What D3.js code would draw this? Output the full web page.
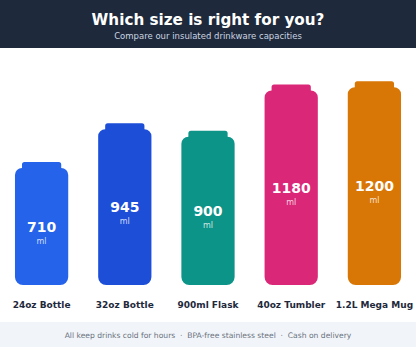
<!DOCTYPE html>
<html>
<head>
<meta charset="utf-8">
<script src="https://cdn.jsdelivr.net/npm/d3@7"></script>
<style>
  html, body { margin: 0; padding: 0; background: #ffffff; }
  svg { display: block; font-family: "DejaVu Sans", sans-serif; }
</style>
</head>
<body>
<div id="chart"></div>
<script>
// data
const categories = ["24oz Bottle", "32oz Bottle", "900ml Flask", "40oz Tumbler", "1.2L Mega Mug"];
const capacities = [710, 945, 900, 1180, 1200];
const colors = ["#2563eb", "#1d4ed8", "#0d9488", "#db2777", "#d97706"];
const footerNotes = ["All keep drinks cold for hours", "BPA-free stainless steel", "Cash on delivery"];

const width = 416, height = 347;
const headerH = 48, footerTop = 322;
const baseY = 285;

const svg = d3.select("#chart").append("svg")
  .attr("width", width)
  .attr("height", height);

// header
svg.append("rect").attr("width", width).attr("height", headerH).attr("fill", "#1e293b");
svg.append("text")
  .attr("x", width / 2).attr("y", 24.5)
  .attr("text-anchor", "middle")
  .attr("fill", "#ffffff")
  .attr("font-size", 15.2).attr("font-weight", "bold")
  .text("Which size is right for you?");
svg.append("text")
  .attr("x", width / 2).attr("y", 38.5)
  .attr("text-anchor", "middle")
  .attr("fill", "#cbd5e1")
  .attr("font-size", 8.5)
  .text("Compare our insulated drinkware capacities");

// scales
const x = d3.scaleBand().domain(categories).range([0, width]).paddingInner(0.36).paddingOuter(0.18);
const y = d3.scaleLinear().domain([0, 1320]).range([baseY, 67.5]);

const data = categories.map((c, i) => ({ name: c, value: capacities[i], color: colors[i] }));

// bottle outline: body with shoulders, small cap on top
function bottle(d) {
  const x0 = x(d.name), x1 = x0 + x.bandwidth();
  const top = y(d.value), bot = y(0);
  const r = 7, capH = 6, cr = 2.5, rb = 8;
  return `M${x0},${top + r}` +
    `A${r},${r} 0 0 1 ${x0 + r},${top}` +
    `L${x0 + r},${top - capH + cr}` +
    `A${cr},${cr} 0 0 1 ${x0 + r + cr},${top - capH}` +
    `L${x1 - r - cr},${top - capH}` +
    `A${cr},${cr} 0 0 1 ${x1 - r},${top - capH + cr}` +
    `L${x1 - r},${top}` +
    `A${r},${r} 0 0 1 ${x1},${top + r}` +
    `L${x1},${bot - rb}` +
    `A${rb},${rb} 0 0 1 ${x1 - rb},${bot}` +
    `L${x0 + rb},${bot}` +
    `A${rb},${rb} 0 0 1 ${x0},${bot - rb}Z`;
}

const g = svg.selectAll(".bottle")
  .data(data)
  .enter().append("g")
  .attr("class", "bottle");

g.append("path")
  .attr("d", bottle)
  .attr("fill", d => d.color);

// value labels in the middle of the body
g.append("text")
  .attr("x", d => x(d.name) + x.bandwidth() / 2)
  .attr("y", d => (y(d.value) + y(0)) / 2 + 5)
  .attr("text-anchor", "middle")
  .attr("fill", "#ffffff")
  .attr("font-size", 14).attr("font-weight", "bold")
  .text(d => d.value);

g.append("text")
  .attr("x", d => x(d.name) + x.bandwidth() / 2)
  .attr("y", d => (y(d.value) + y(0)) / 2 + 17)
  .attr("text-anchor", "middle")
  .attr("fill", "#ffffff").attr("fill-opacity", 0.8)
  .attr("font-size", 8)
  .text("ml");

// category labels
const xAxis = svg.append("g")
  .attr("transform", `translate(0,${baseY})`)
  .call(d3.axisBottom(x).tickSize(0).tickPadding(17));
xAxis.select(".domain").remove();
xAxis.selectAll("text")
  .attr("font-family", "DejaVu Sans, sans-serif")
  .attr("font-size", 9).attr("font-weight", "bold")
  .attr("fill", "#1e293b");

// footer
svg.append("rect").attr("y", footerTop).attr("width", width).attr("height", height - footerTop).attr("fill", "#f1f5f9");
svg.append("text")
  .attr("x", width / 2).attr("y", 337.5)
  .attr("text-anchor", "middle")
  .attr("fill", "#6b7280")
  .attr("font-size", 7.6)
  .attr("xml:space", "preserve")
  .text(footerNotes.join("  ·  "));
</script>
</body>
</html>
